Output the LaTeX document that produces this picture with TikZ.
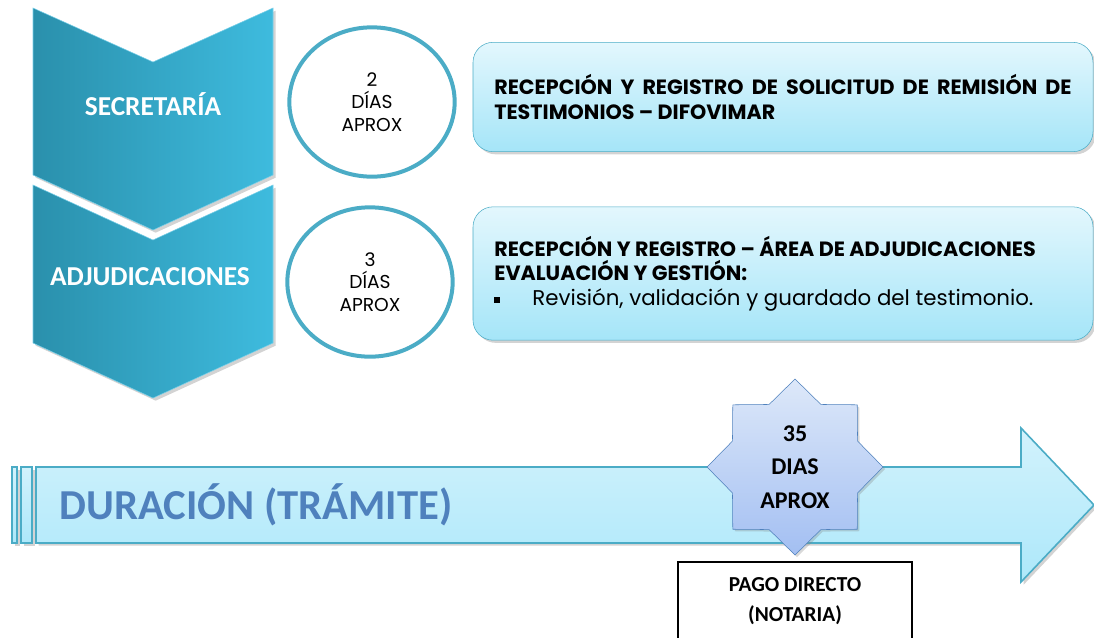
\documentclass[tikz,border=0pt]{standalone}
\usepackage{fontspec}
\setmainfont{Poppins}
\newfontfamily\calibri{Carlito}
\usepackage{xcolor}
\usepackage{tikz}
\usetikzlibrary{positioning,shapes,shadows,arrows}
\definecolor{chevleft}{RGB}{42,144,172}
\definecolor{chevright}{RGB}{62,187,222}
\definecolor{ringblue}{RGB}{75,172,198}
\definecolor{boxtop}{RGB}{227,247,253}
\definecolor{boxbottom}{RGB}{165,229,248}
\definecolor{bartop}{RGB}{210,242,252}
\definecolor{barbottom}{RGB}{173,232,250}
\definecolor{durblue}{RGB}{79,129,189}
\definecolor{startop}{RGB}{221,232,249}
\definecolor{starbottom}{RGB}{163,191,242}
\tikzstyle{chevron}=[left color=chevleft, right color=chevright, draw=chevright!70!white,
        drop shadow={opacity=0.35, shadow xshift=2pt, shadow yshift=-2pt}]
\tikzstyle{stage}=[text=white, font=\calibri\bfseries\fontsize{20.5}{24}\selectfont]
\tikzstyle{days}=[ellipse, draw=ringblue, line width=3pt, fill=white, align=center,
        minimum width=124pt, minimum height=112pt, font=\fontsize{14}{17}\selectfont]
\tikzstyle{task}=[rectangle, draw=ringblue, rounded corners=15pt, top color=boxtop,
        bottom color=boxbottom, drop shadow={opacity=0.35, shadow xshift=2pt, shadow yshift=-2pt},
        minimum width=465pt, text width=433pt, align=justify, font=\fontsize{15.5}{18.5}\selectfont]
\tikzstyle{stripe}=[draw=ringblue, line width=1.2pt, top color=bartop, bottom color=barbottom,
        drop shadow={opacity=0.35, shadow xshift=2pt, shadow yshift=-2pt}]
\tikzstyle{burst}=[star, star points=8, star point ratio=1.3, minimum size=132pt, inner sep=0pt,
        draw=durblue, top color=startop, bottom color=starbottom, align=center,
        drop shadow={opacity=0.3, shadow xshift=1.5pt, shadow yshift=-1.5pt},
        font=\calibri\bfseries\fontsize{18}{25}\selectfont]
\tikzstyle{paybox}=[rectangle, draw=black, line width=1.5pt, fill=white, align=center,
        minimum width=175pt, inner ysep=12pt, text depth=40pt,
        font=\calibri\bfseries\fontsize{16}{22.5}\selectfont]

\begin{document}
\begin{tikzpicture}[x=0.75pt, y=-0.75pt]
        \useasboundingbox (0,0) rectangle (1094,637);
        % etapas
        \path[chevron] (33,8) -- (153,62) -- (273,8) -- (273,175) -- (153,230) -- (33,175) -- cycle;
        \path[chevron] (33,185) -- (153,240) -- (273,185) -- (273,343) -- (153,398) -- (33,343) -- cycle;
        \node (secretaria) [stage] at (153,104) {SECRETARÍA};
        \node (adjudicaciones) [stage] at (150,277) {ADJUDICACIONES};
        % plazos
        \node (plazo1) [days] at (372,102) {2\\DÍAS\\APROX};
        \node (plazo2) [days] at (370,282) {3\\DÍAS\\APROX};
        % tareas
        \node (tarea1) [task, minimum height=82pt] at (783,97)
        {
          \textbf{RECEPCIÓN Y REGISTRO DE SOLICITUD DE REMISIÓN DE TESTIMONIOS – DIFOVIMAR}
        };
        \node (tarea2) [task, minimum height=100pt] at (783,273.5)
        {
          \textbf{RECEPCIÓN Y REGISTRO – ÁREA DE ADJUDICACIONES\\
          EVALUACIÓN Y GESTIÓN:}\\
          {\fontsize{16}{19}\selectfont\makebox[28.5pt][l]{\raisebox{2pt}{\rule{4.5pt}{4.5pt}}}Revisión, validación y guardado del testimonio.}
        };
        % duracion
        \path[stripe] (12,467) rectangle (17,543);
        \path[stripe] (21,467) rectangle (32,543);
        \path[stripe] (36,467) -- (1021,467) -- (1021,428) -- (1094,505) -- (1021,582)
          -- (1021,543) -- (36,543) -- cycle;
        \node (duracion) [anchor=west, text=durblue, font=\calibri\bfseries\fontsize{32}{36}\selectfont]
          at (55,505) {DURACIÓN (TRÁMITE)};
        \node (total) [burst] at (795,467) {35\\DIAS\\APROX};
        \node (pago) [paybox, below=4pt of total] {PAGO DIRECTO\\(NOTARIA)};
\end{tikzpicture}
\end{document}
